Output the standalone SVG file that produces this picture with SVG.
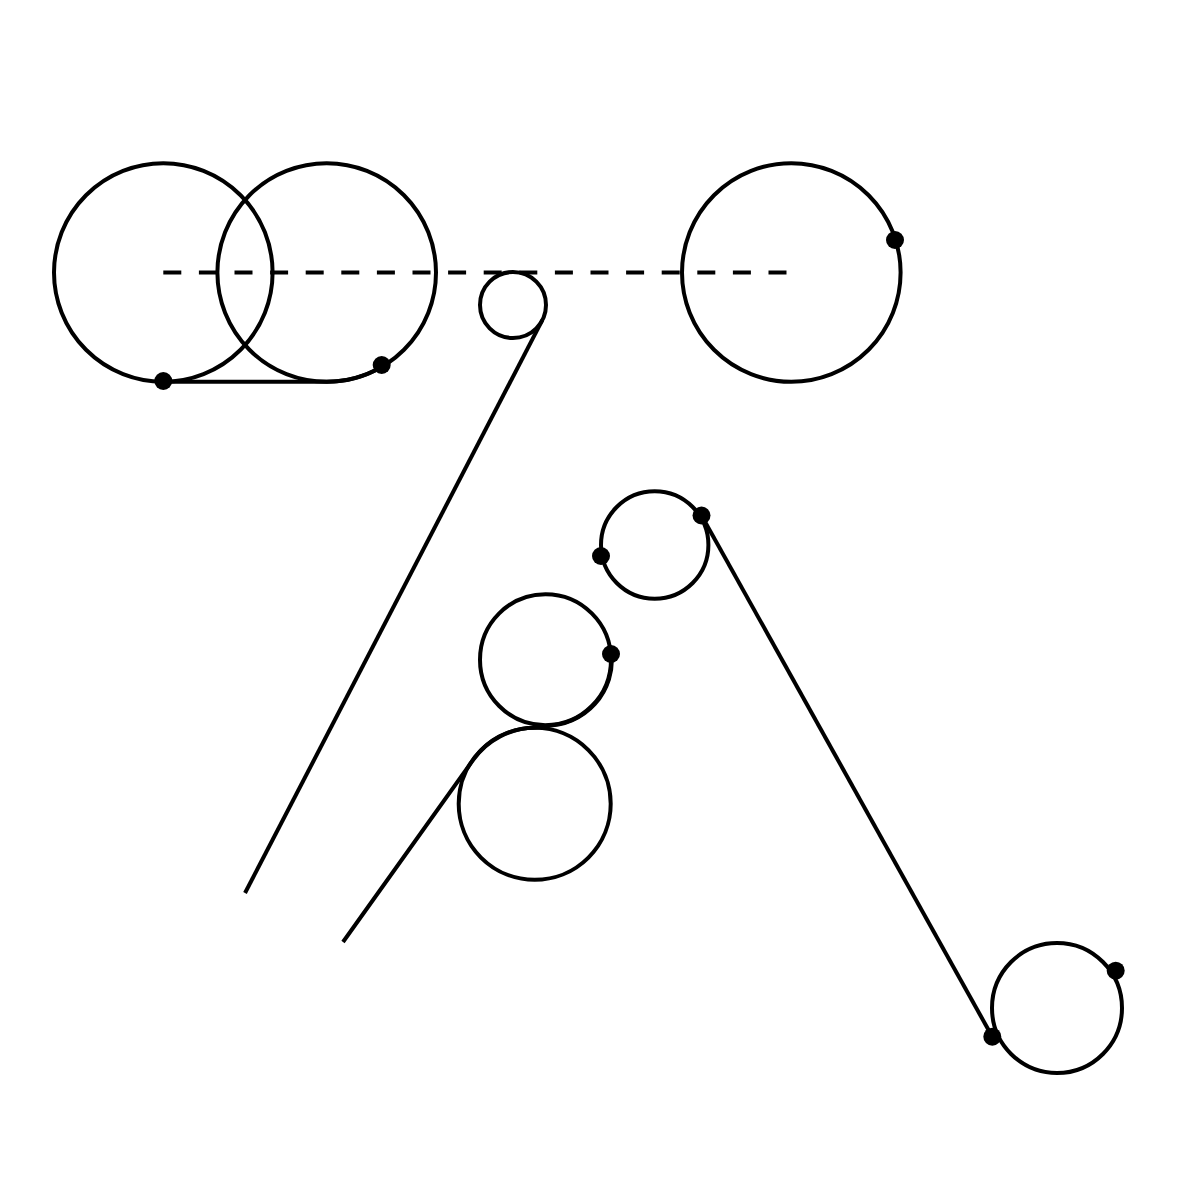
<svg xmlns="http://www.w3.org/2000/svg" width="1200" height="1200" viewBox="0 0 1200 1200">
<style>
.c{fill:none;stroke:#000;stroke-width:4}
.p{fill:none;stroke:#000;stroke-width:4;stroke-linejoin:round}
.d{fill:#000;stroke:none}
.dash{stroke:#000;stroke-width:4;stroke-dasharray:18 17.6}
</style>
<rect width="1200" height="1200" fill="#fff"/>
<g id="circles">
<circle class="c" cx="163.3" cy="272.5" r="109.3"/>
<circle class="c" cx="326.7" cy="272.5" r="109.3"/>
<circle class="c" cx="791.3" cy="272.5" r="109.3"/>
<circle class="c" cx="513" cy="305" r="33"/>
<circle class="c" cx="654.7" cy="545" r="53.7"/>
<circle class="c" cx="545.5" cy="659.7" r="65.5"/>
<circle class="c" cx="534.7" cy="803.8" r="76"/>
<circle class="c" cx="1057" cy="1008" r="65"/>
</g>
<g id="connectors">
<line class="dash" x1="163.3" y1="272.5" x2="790" y2="272.5"/>
<path class="p" d="M163.3 381.8 L326.7 381.8 A109.3 109.3 0 0 0 381.5 367"/>
<path class="p" d="M245 893 L542.3 320.2"/>
<path class="p" d="M343 942 L473.2 759.8 A76 76 0 0 1 534.7 727.8 L546.5 725.7 A66 66 0 0 0 611.6 653.5"/>
<path class="p" d="M701.5 515.5 L992.3 1036.7"/>
</g>
<g id="dots">
<circle class="d" cx="163.3" cy="381" r="9"/>
<circle class="d" cx="381.7" cy="365" r="9"/>
<circle class="d" cx="895" cy="240" r="9"/>
<circle class="d" cx="601" cy="556" r="9"/>
<circle class="d" cx="701.5" cy="515.5" r="9"/>
<circle class="d" cx="611" cy="654" r="9"/>
<circle class="d" cx="992.3" cy="1036.7" r="9"/>
<circle class="d" cx="1115.7" cy="970.7" r="9"/>
</g>
</svg>
